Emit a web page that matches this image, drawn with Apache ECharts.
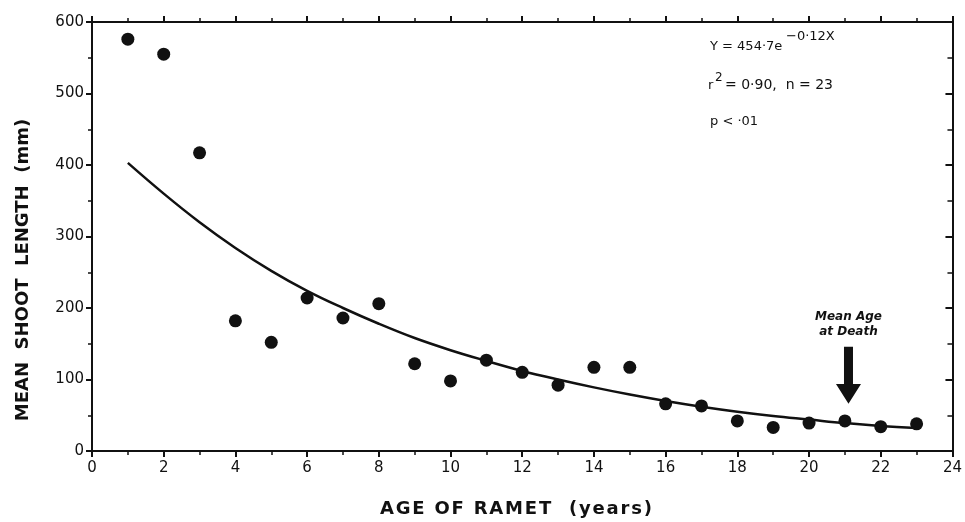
<!DOCTYPE html>
<html>
<head>
<meta charset="utf-8">
<script src="https://cdn.jsdelivr.net/npm/echarts@6/dist/echarts.min.js"></script>
<style>
  html, body { margin: 0; padding: 0; background: #fff; }
  #chart { width: 965px; height: 522px; }
</style>
</head>
<body>
<div id="chart"></div>
<script>
// age of ramet (years)
const ages = [1, 2, 3, 4, 5, 6, 7, 8, 9, 10, 11, 12, 13, 14, 15, 16, 17, 18, 19, 20, 21, 22, 23];
// observed mean shoot length (mm)
const shootLength = [576, 555, 417, 182, 152, 214, 186, 206, 122, 98, 127, 110, 92, 117, 117, 66, 63, 42, 33, 39, 42, 34, 38];
// fitted curve
const fittedLength = [403, 360, 320, 284, 252, 224, 200, 178, 158, 141, 126, 112, 100, 89, 79, 70, 62, 55, 49, 44, 39, 35, 32];
// mean age at death marker
const meanAgeAtDeath = 21.1;

const chart = echarts.init(document.getElementById('chart'));
const font = 'DejaVu Sans';
const ink = '#111';
// spread letters out like the original lettering
const spaced = s => s.split('').join('\u200A');

const axisLine = { show: true, onZero: false, lineStyle: { color: ink, width: 2 } };

const option = {
  animation: false,
  backgroundColor: '#fff',
  grid: { left: 92, right: 8, top: 22, bottom: 71 },
  xAxis: [
    {
      type: 'value', min: 0, max: 24, interval: 2,
      axisLine: axisLine,
      axisTick: { show: true, inside: false, length: 6, lineStyle: { color: ink, width: 2 } },
      minorTick: { show: true, splitNumber: 2, length: 4, lineStyle: { color: ink, width: 1.5 } },
      splitLine: { show: false },
      axisLabel: { color: ink, fontFamily: font, fontSize: 15, margin: 10 }
    },
    {
      type: 'value', position: 'top', min: 0, max: 24, interval: 2,
      axisLine: axisLine,
      axisTick: { show: true, inside: false, length: 6, lineStyle: { color: ink, width: 2 } },
      minorTick: { show: true, splitNumber: 2, length: 4, lineStyle: { color: ink, width: 1.5 } },
      splitLine: { show: false },
      axisLabel: { show: false }
    }
  ],
  yAxis: [
    {
      type: 'value', min: 0, max: 600, interval: 100,
      axisLine: axisLine,
      axisTick: { show: true, inside: false, length: 6, lineStyle: { color: ink, width: 2 } },
      minorTick: { show: true, splitNumber: 2, length: 4, lineStyle: { color: ink, width: 1.5 } },
      splitLine: { show: false },
      axisLabel: { color: ink, fontFamily: font, fontSize: 15, margin: 8 }
    },
    {
      type: 'value', position: 'right', min: 0, max: 600, interval: 100,
      axisLine: axisLine,
      axisTick: { show: true, inside: true, length: 7, lineStyle: { color: ink, width: 2 } },
      minorTick: { show: true, splitNumber: 2, length: 5, lineStyle: { color: ink, width: 1.5 } },
      splitLine: { show: false },
      axisLabel: { show: false }
    }
  ],
  series: [
    {
      name: 'Fit',
      type: 'line',
      smooth: 0.4,
      showSymbol: false,
      data: ages.map((a, i) => [a, fittedLength[i]]),
      lineStyle: { color: ink, width: 2.5 },
      z: 2
    },
    {
      name: 'Observed',
      type: 'scatter',
      symbolSize: 13,
      data: ages.map((a, i) => [a, shootLength[i]]),
      itemStyle: { color: ink, opacity: 1 },
      z: 3,
      markPoint: {
        silent: true,
        data: [
          {
            coord: [meanAgeAtDeath, 106],
            symbol: 'path://M8,0 L17,0 L17,38 L25,38 L12.5,58 L0,38 L8,38 Z',
            symbolSize: [25, 57],
            itemStyle: { color: ink },
            label: { show: false }
          },
          {
            coord: [meanAgeAtDeath, 177],
            symbol: 'circle', symbolSize: 0,
            label: {
              show: true, position: 'inside',
              formatter: 'Mean Age\nat Death',
              color: ink, fontFamily: font, fontStyle: 'italic', fontWeight: 'bold',
              fontSize: 12, lineHeight: 15, align: 'center'
            }
          }
        ]
      }
    }
  ],
  graphic: [
    {
      type: 'text', x: 516, y: 509,
      style: {
        text: spaced('AGE OF RAMET  (years)'), fontFamily: font, fontWeight: 'bold',
        fontSize: 18, fill: ink, align: 'center', verticalAlign: 'middle'
      }
    },
    {
      type: 'text', x: 23, y: 270, rotation: Math.PI / 2,
      style: {
        text: 'MEAN  SHOOT  LENGTH  (mm)', fontFamily: font, fontWeight: 'bold',
        fontSize: 18, fill: ink, align: 'center', verticalAlign: 'middle'
      }
    },
    { type: 'text', x: 710, y: 47, style: { text: 'Y = 454·7e', fontFamily: font, fontSize: 13, fill: ink, verticalAlign: 'middle' } },
    { type: 'text', x: 786, y: 37, style: { text: '−0·12X', fontFamily: font, fontSize: 13, fill: ink, verticalAlign: 'middle' } },
    { type: 'text', x: 708, y: 86, style: { text: 'r', fontFamily: font, fontSize: 13, fill: ink, verticalAlign: 'middle' } },
    { type: 'text', x: 715, y: 78, style: { text: '2', fontFamily: font, fontSize: 12, fill: ink, verticalAlign: 'middle' } },
    { type: 'text', x: 725, y: 85, style: { text: '= 0·90,  n = 23', fontFamily: font, fontSize: 14, fill: ink, verticalAlign: 'middle' } },
    { type: 'text', x: 710, y: 122, style: { text: 'p < ·01', fontFamily: font, fontSize: 13, fill: ink, verticalAlign: 'middle' } }
  ]
};

chart.setOption(option);
</script>
</body>
</html>
